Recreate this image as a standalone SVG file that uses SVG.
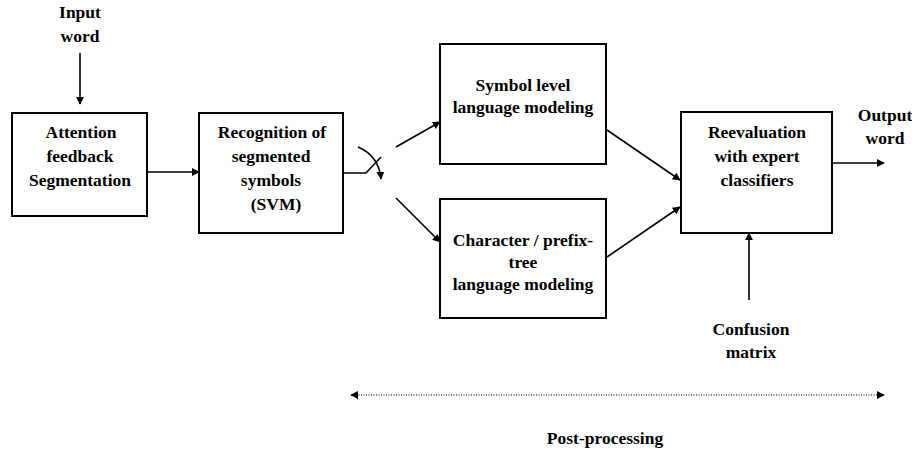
<svg xmlns="http://www.w3.org/2000/svg" width="912" height="455" viewBox="0 0 912 455">
<style>
.box{fill:#fff;stroke:#000;stroke-width:2}
.t{font-family:"Liberation Serif","Times New Roman","DejaVu Serif",serif;font-weight:bold;font-size:17.5px;fill:#000;text-anchor:middle}
.c{fill:none;stroke:#000;stroke-width:1.6}
.d{fill:none;stroke:#000;stroke-width:1.2;stroke-dasharray:1 1.5}
</style>
<defs>
<marker id="ah" viewBox="0 0 10 10" refX="9" refY="5" markerWidth="8" markerHeight="8" markerUnits="userSpaceOnUse" orient="auto">
<path d="M0,0 L10,5 L0,10 z" fill="#000"/>
</marker>
<marker id="ahs" viewBox="0 0 10 10" refX="1" refY="5" markerWidth="8" markerHeight="8" markerUnits="userSpaceOnUse" orient="auto">
<path d="M10,0 L0,5 L10,10 z" fill="#000"/>
</marker>
</defs>
<g id="connectors">
<line class="c" x1="80" y1="53" x2="80" y2="104" marker-end="url(#ah)"/>
<line class="c" x1="147" y1="172" x2="199" y2="172" marker-end="url(#ah)"/>
<polyline class="c" points="343,173 366,173 381,157"/>
<path class="c" d="M358,147 Q379,156 381,179" marker-end="url(#ah)"/>
<line class="c" x1="396" y1="147" x2="440" y2="122" marker-end="url(#ah)"/>
<line class="c" x1="396" y1="198" x2="440" y2="242" marker-end="url(#ah)"/>
<line class="c" x1="607" y1="130" x2="680" y2="180" marker-end="url(#ah)"/>
<line class="c" x1="607" y1="257" x2="680" y2="207" marker-end="url(#ah)"/>
<line class="c" x1="832" y1="163" x2="884" y2="163" marker-end="url(#ah)"/>
<line class="c" x1="749" y1="300" x2="749" y2="233" marker-end="url(#ah)"/>
<line class="d" x1="351" y1="395" x2="884" y2="395" marker-start="url(#ahs)" marker-end="url(#ah)"/>
</g>
<g id="input">
<text class="t" x="80" y="18">Input</text>
<text class="t" x="80" y="42">word</text>
</g>
<g id="attention">
<rect class="box" x="12" y="113" width="135" height="103"/>
<text class="t" x="81" y="138">Attention</text>
<text class="t" x="80" y="162">feedback</text>
<text class="t" x="80" y="186">Segmentation</text>
</g>
<g id="recognition">
<rect class="box" x="199" y="113" width="144" height="120"/>
<text class="t" x="272" y="138">Recognition of</text>
<text class="t" x="271" y="162">segmented</text>
<text class="t" x="271" y="186">symbols</text>
<text class="t" x="276" y="210">(SVM)</text>
</g>
<g id="symbol">
<rect class="box" x="440" y="44" width="166" height="120"/>
<text class="t" x="523" y="91">Symbol level</text>
<text class="t" x="523" y="113">language modeling</text>
</g>
<g id="character">
<rect class="box" x="440" y="199" width="166" height="119"/>
<text class="t" x="523" y="246">Character / prefix-</text>
<text class="t" x="523" y="268">tree</text>
<text class="t" x="523" y="290">language modeling</text>
</g>
<g id="reevaluation">
<rect class="box" x="681" y="112" width="151" height="121"/>
<text class="t" x="757" y="138">Reevaluation</text>
<text class="t" x="757" y="162">with expert</text>
<text class="t" x="757" y="186">classifiers</text>
</g>
<g id="output">
<text class="t" x="885" y="121">Output</text>
<text class="t" x="885" y="144">word</text>
</g>
<g id="confusion">
<text class="t" x="751" y="335">Confusion</text>
<text class="t" x="751" y="358">matrix</text>
</g>
<g id="postprocessing">
<text class="t" x="605" y="444">Post-processing</text>
</g>
</svg>
